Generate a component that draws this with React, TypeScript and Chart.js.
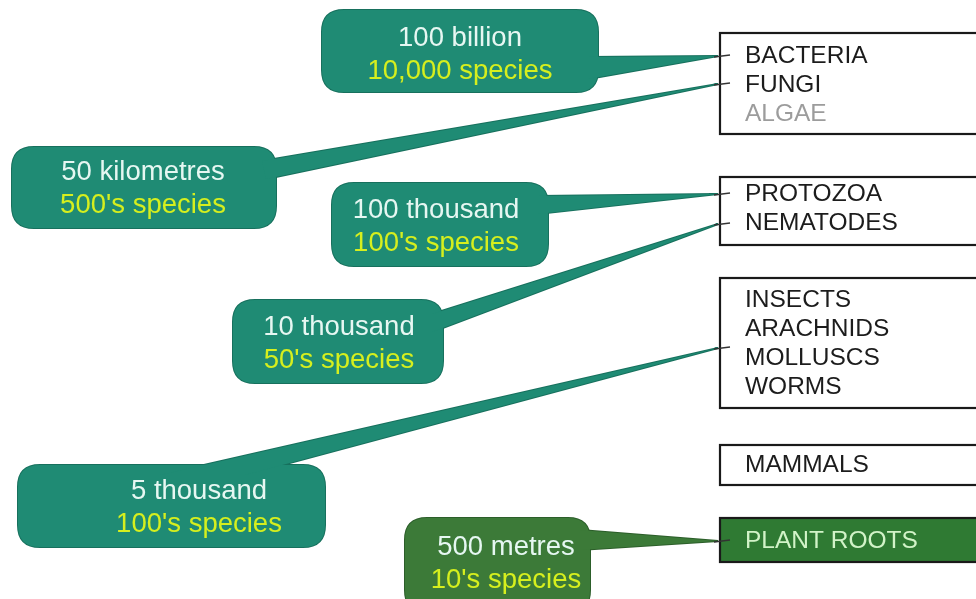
import React, { useEffect, useRef } from "react";
import { Chart, registerables } from "chart.js";

Chart.register(...registerables);

// ---- content ----
const sizeLabels = ["100 billion", "50 kilometres", "100 thousand", "10 thousand", "5 thousand", "500 metres"];
const speciesLabels = ["10,000 species", "500's species", "100's species", "50's species", "100's species", "10's species"];
const groupItems: string[][] = [
  ["BACTERIA", "FUNGI", "ALGAE"],
  ["PROTOZOA", "NEMATODES"],
  ["INSECTS", "ARACHNIDS", "MOLLUSCS", "WORMS"],
  ["MAMMALS"],
  ["PLANT ROOTS"],
];
const mutedItems = ["ALGAE"];

// ---- layout (in scale units: x 0..976, y 0..599) ----
const calloutRects = [
  [322, 10, 598, 92],
  [12, 147, 276, 228],
  [332, 183, 548, 266],
  [233, 300, 443, 383],
  [18, 465, 325, 547],
  [405, 518, 590, 612],
];
const calloutTextAt = [
  [460, 38],
  [143, 172],
  [436, 210],
  [339, 327],
  [199, 491],
  [506, 547],
];
const calloutTailBase = [
  [588, 57, 588, 79],
  [262, 161, 266, 179],
  [538, 196, 538, 214],
  [432, 314, 432, 332],
  [160, 475, 245, 475],
  [580, 530, 580, 550],
];
const calloutTips = [
  [718, 56],
  [718, 84],
  [718, 194],
  [718, 224],
  [718, 348],
  [718, 541],
];
const calloutDark = [false, false, false, false, false, true];
const boxRects = [
  [720, 33, 134],
  [720, 177, 245],
  [720, 278, 408],
  [720, 445, 485],
  [720, 518, 562],
];
const boxFirstLine = [56, 194, 300, 465, 541];
const lineStep = 29;
const calloutLineStep = 33;

const TEAL = "#1f8b74";
const TEAL_EDGE = "#17705d";
const DARK = "#3c7a38";
const DARK_EDGE = "#2c5e2a";
const ROOTS = "#2f7a33";

function roundRect(ctx: CanvasRenderingContext2D, x0: number, y0: number, x1: number, y1: number, r: number) {
  ctx.beginPath();
  ctx.moveTo(x0 + r, y0);
  ctx.lineTo(x1 - r, y0);
  ctx.quadraticCurveTo(x1, y0, x1, y0 + r);
  ctx.lineTo(x1, y1 - r);
  ctx.quadraticCurveTo(x1, y1, x1 - r, y1);
  ctx.lineTo(x0 + r, y1);
  ctx.quadraticCurveTo(x0, y1, x0, y1 - r);
  ctx.lineTo(x0, y0 + r);
  ctx.quadraticCurveTo(x0, y0, x0 + r, y0);
  ctx.closePath();
}

const diagramPlugin = {
  id: "diagram",
  afterDatasetsDraw(chart: any) {
    const ctx: CanvasRenderingContext2D = chart.ctx;
    const xs = chart.scales.x;
    const ys = chart.scales.y;
    const px = (v: number) => xs.getPixelForValue(v);
    const py = (v: number) => ys.getPixelForValue(v);
    ctx.save();

    // boxes
    boxRects.forEach((b, i) => {
      const isRoots = i === 4;
      ctx.fillStyle = isRoots ? ROOTS : "#ffffff";
      ctx.fillRect(px(b[0]), py(b[1]), px(990) - px(b[0]), py(b[2]) - py(b[1]));
      ctx.strokeStyle = "#1a1a1a";
      ctx.lineWidth = 2.2;
      ctx.strokeRect(px(b[0]), py(b[1]), px(990) - px(b[0]), py(b[2]) - py(b[1]));
      ctx.font = "24.5px 'Liberation Sans', Arial, sans-serif";
      ctx.textBaseline = "middle";
      ctx.textAlign = "left";
      groupItems[i].forEach((t, j) => {
        ctx.fillStyle = isRoots ? "#d2f3c8" : mutedItems.includes(t) ? "#9c9c9c" : "#1c1c1c";
        ctx.fillText(t, px(745), py(boxFirstLine[i] + j * lineStep));
      });
    });

    // callouts
    calloutRects.forEach((r, i) => {
      const fill = calloutDark[i] ? DARK : TEAL;
      const edge = calloutDark[i] ? DARK_EDGE : TEAL_EDGE;
      const tb = calloutTailBase[i];
      const tip = calloutTips[i];
      const tail = () => {
        ctx.beginPath();
        ctx.moveTo(px(tb[0]), py(tb[1]));
        ctx.lineTo(px(tip[0]), py(tip[1]));
        ctx.lineTo(px(tb[2]), py(tb[3]));
        ctx.closePath();
      };
      ctx.lineWidth = 2;
      ctx.strokeStyle = edge;
      roundRect(ctx, px(r[0]), py(r[1]), px(r[2]), py(r[3]), 22);
      ctx.stroke();
      tail();
      ctx.stroke();
      ctx.fillStyle = fill;
      roundRect(ctx, px(r[0]), py(r[1]), px(r[2]), py(r[3]), 22);
      ctx.fill();
      tail();
      ctx.fill();

      // tick into box
      ctx.strokeStyle = "#333";
      ctx.lineWidth = 1.5;
      ctx.beginPath();
      ctx.moveTo(px(tip[0] - 4), py(tip[1] + 1));
      ctx.lineTo(px(tip[0] + 12), py(tip[1] - 1));
      ctx.stroke();

      const t = calloutTextAt[i];
      ctx.font = "27.5px 'Liberation Sans', Arial, sans-serif";
      ctx.textAlign = "center";
      ctx.textBaseline = "middle";
      ctx.fillStyle = "#e6f7f2";
      ctx.fillText(sizeLabels[i], px(t[0]), py(t[1]));
      ctx.fillStyle = "#d6ef1e";
      ctx.fillText(speciesLabels[i], px(t[0]), py(t[1] + calloutLineStep));
    });
    ctx.restore();
  },
};

export default function App() {
  const ref = useRef<HTMLCanvasElement>(null);
  useEffect(() => {
    document.body.style.margin = "0";
    const chart = new Chart(ref.current!, {
      type: "scatter",
      data: {
        datasets: [
          {
            data: calloutTips.map((p) => ({ x: p[0], y: p[1] })),
            pointRadius: 0,
          },
        ],
      },
      options: {
        animation: false,
        responsive: false,
        layout: { padding: 0 },
        events: [],
        scales: {
          x: { type: "linear", min: 0, max: 976, display: false },
          y: { type: "linear", min: 0, max: 599, reverse: true, display: false },
        },
        plugins: { legend: { display: false }, tooltip: { enabled: false } },
      },
      plugins: [diagramPlugin],
    });
    return () => chart.destroy();
  }, []);
  return (
    <div style={{ width: 976, height: 599, background: "#fff" }}>
      <canvas ref={ref} width={976} height={599} />
    </div>
  );
}
